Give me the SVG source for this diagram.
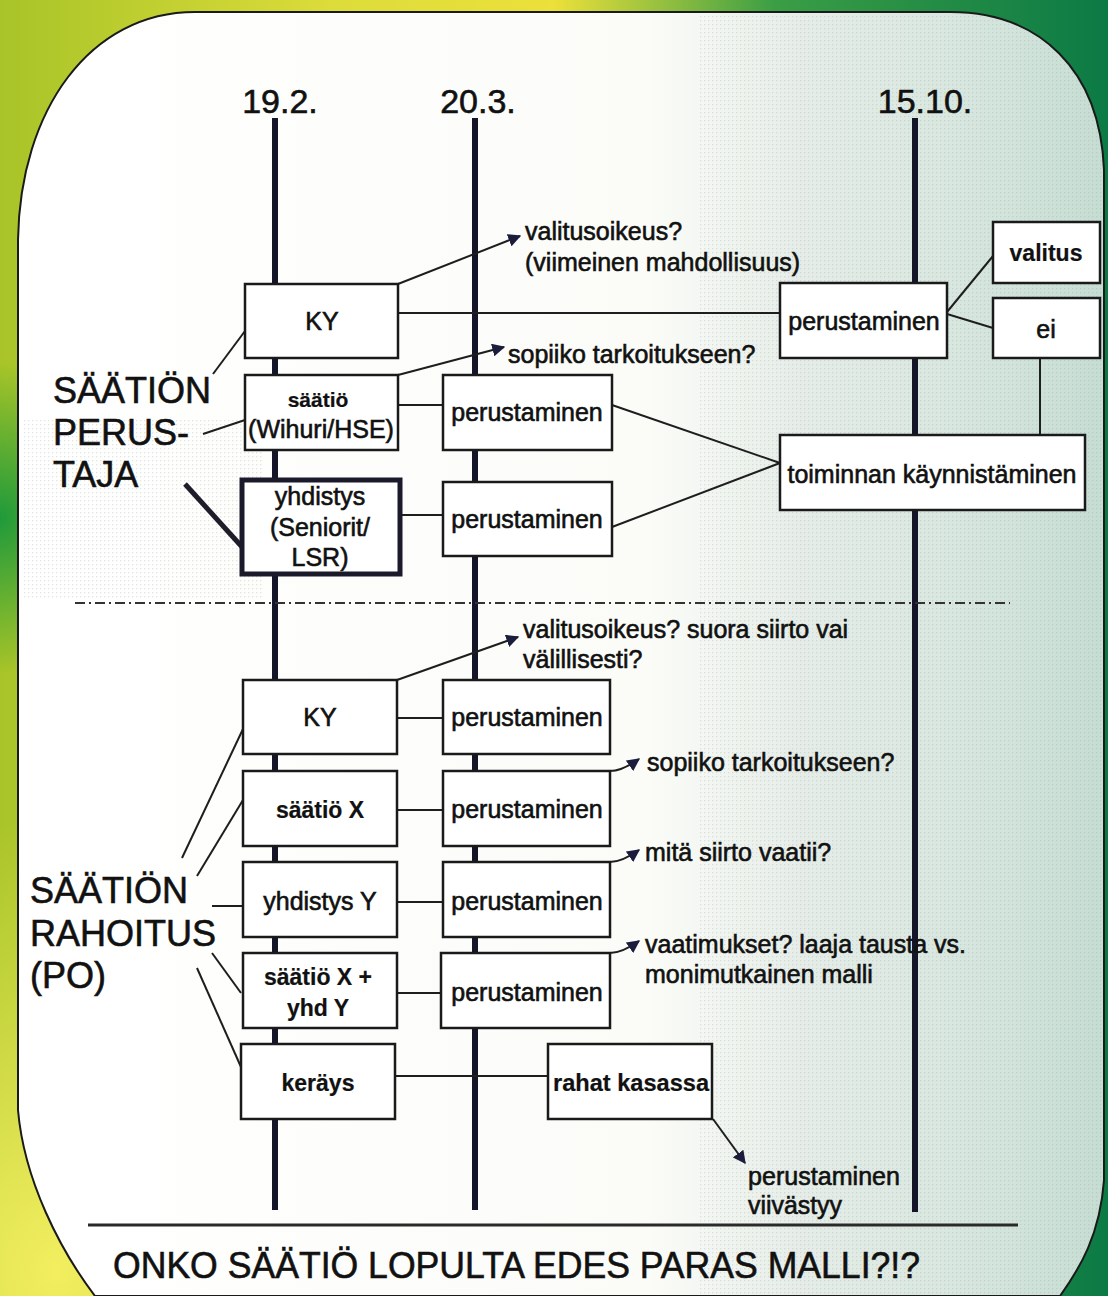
<svg xmlns="http://www.w3.org/2000/svg" width="1108" height="1296" viewBox="0 0 1108 1296">
<defs>
<linearGradient id="bgH" x1="0" y1="0" x2="1" y2="0">
<stop offset="0" stop-color="#a8c428"/>
<stop offset="0.3" stop-color="#dcdc3a"/>
<stop offset="0.5" stop-color="#ece03a"/>
<stop offset="0.7" stop-color="#3a9e45"/>
<stop offset="1" stop-color="#0c7a45"/>
</linearGradient>
<radialGradient id="bgY" cx="0.05" cy="0.98" r="0.35">
<stop offset="0" stop-color="#f2ee60"/>
<stop offset="1" stop-color="#f2ee60" stop-opacity="0"/>
</radialGradient>
<radialGradient id="bgG" cx="0" cy="0.4" r="0.12">
<stop offset="0" stop-color="#1f9a3a"/>
<stop offset="1" stop-color="#1f9a3a" stop-opacity="0"/>
</radialGradient>
<linearGradient id="inner" x1="0" y1="0" x2="1" y2="0">
<stop offset="0" stop-color="#ffffff"/>
<stop offset="0.58" stop-color="#fbfcf8"/>
<stop offset="0.72" stop-color="#e6ede8"/>
<stop offset="0.88" stop-color="#d6e6de"/>
<stop offset="1" stop-color="#c6ddd3"/>
</linearGradient>
<pattern id="dots" width="4" height="4" patternUnits="userSpaceOnUse">
<rect x="0" y="0" width="1.3" height="1.3" fill="#8a9a90" fill-opacity="0.25"/>
</pattern>
<marker id="ahs" viewBox="0 0 10 10" refX="9" refY="5" markerWidth="13" markerHeight="13" orient="auto" markerUnits="userSpaceOnUse">
<path d="M0,0 L10,5 L0,10 Z" fill="#1c1c3c"/>
</marker>
</defs>
<style>
text{font-family:"Liberation Sans",Arial,Helvetica,sans-serif;fill:#111;stroke:#111;stroke-width:0.6}
.t{font-size:25px}
.b{font-weight:bold;stroke-width:0.2}
.c{text-anchor:middle}
.big{font-size:36px;stroke-width:0.6}
.date{font-size:34px;text-anchor:middle}
.box{fill:#fff;stroke:#1a1a1a;stroke-width:2.5}
.thick{fill:#fff;stroke:#1a1a2a;stroke-width:5}
.tl{stroke:#15152a;stroke-width:6;fill:none}
.ln{stroke:#1e1e1e;stroke-width:2;fill:none}
.ln3{stroke:#1e1e2a;stroke-width:5;fill:none}
</style>

<g id="background">
<rect x="0" y="0" width="1108" height="1296" fill="url(#bgH)"/>
<rect x="0" y="0" width="1108" height="1296" fill="url(#bgY)"/>
<rect x="0" y="0" width="1108" height="1296" fill="url(#bgG)"/>
<path d="M195,12 L950,12 C1040,12 1100,70 1104,170 L1104,1180 C1100,1235 1080,1268 1060,1296 L95,1296 C60,1250 24,1180 18,1110 L18,240 C20,110 90,12 195,12 Z" fill="url(#inner)" stroke="#1a1a1a" stroke-width="2"/>
<path d="M700,14 L950,14 C1040,14 1100,70 1102,170 L1102,1180 C1098,1235 1078,1268 1058,1294 L700,1294 Z" fill="url(#dots)"/>
<rect x="22" y="420" width="240" height="180" fill="url(#dots)"/>
</g>

<g id="dates">
<text class="date" x="280" y="113">19.2.</text>
<text class="date" x="478" y="113">20.3.</text>
<text class="date" x="925" y="113">15.10.</text>
</g>

<g id="timelines">
<line class="tl" x1="275" y1="118" x2="275" y2="1210"/>
<line class="tl" x1="475" y1="118" x2="475" y2="1210"/>
<line class="tl" x1="915" y1="118" x2="915" y2="1212"/>
</g>

<g id="connectors">
<line class="ln" x1="398" y1="313" x2="780" y2="313" stroke="#2c2c18"/>
<line class="ln" x1="398" y1="284" x2="520" y2="236" marker-end="url(#ahs)"/>
<line class="ln" x1="398" y1="375" x2="504" y2="347" marker-end="url(#ahs)"/>
<line class="ln" x1="947" y1="312" x2="993" y2="256"/>
<line class="ln" x1="947" y1="314" x2="993" y2="328"/>
<line class="ln" x1="1040" y1="358" x2="1040" y2="435"/>
<line class="ln" x1="398" y1="405" x2="443" y2="405"/>
<line class="ln" x1="400" y1="515" x2="443" y2="515"/>
<line class="ln" x1="612" y1="405" x2="780" y2="463"/>
<line class="ln" x1="612" y1="527" x2="780" y2="463"/>
<line class="ln" x1="213" y1="374" x2="245" y2="331"/>
<line class="ln" x1="203" y1="434" x2="245" y2="420"/>
<line class="ln3" x1="185" y1="484" x2="243" y2="548"/>
<line x1="75" y1="603" x2="1010" y2="603" stroke="#333" stroke-width="2" stroke-dasharray="10 4 2 4"/>
<line class="ln" x1="397" y1="680" x2="518" y2="637" marker-end="url(#ahs)"/>
<line class="ln" x1="397" y1="718" x2="443" y2="718"/>
<line class="ln" x1="397" y1="810" x2="443" y2="810"/>
<line class="ln" x1="397" y1="902" x2="443" y2="902"/>
<line class="ln" x1="397" y1="993" x2="441" y2="993"/>
<line class="ln" x1="395" y1="1076" x2="548" y2="1076"/>
<path class="ln" d="M610,771 Q622,771 639,759" marker-end="url(#ahs)"/>
<path class="ln" d="M610,862 Q622,862 639,850" marker-end="url(#ahs)"/>
<path class="ln" d="M610,953 Q622,953 639,941" marker-end="url(#ahs)"/>
<line class="ln" x1="713" y1="1119" x2="745" y2="1163" marker-end="url(#ahs)"/>
<line class="ln" x1="182" y1="858" x2="243" y2="729"/>
<line class="ln" x1="197" y1="876" x2="243" y2="800"/>
<line class="ln" x1="212" y1="906" x2="243" y2="906"/>
<line class="ln" x1="212" y1="953" x2="241" y2="993"/>
<line class="ln" x1="197" y1="968" x2="241" y2="1067"/>
<line x1="88" y1="1225" x2="1018" y2="1225" stroke="#2a2a2a" stroke-width="3"/>
</g>

<g id="node-ky1"><rect class="box" x="245" y="284" width="153" height="74"/><text class="t c" x="322" y="330">KY</text></g>
<g id="node-perustaminen-top"><rect class="box" x="780" y="283" width="167" height="75"/><text class="t c" x="864" y="330">perustaminen</text></g>
<g id="node-valitus"><rect class="box" x="993" y="222" width="107" height="61"/><text class="t c b" x="1046" y="261" style="font-size:23px">valitus</text></g>
<g id="node-ei"><rect class="box" x="993" y="298" width="107" height="60"/><text class="t c" x="1046" y="338">ei</text></g>
<g id="node-saatio1"><rect class="box" x="245" y="375" width="153" height="75"/><text class="t c b" x="318" y="407" style="font-size:21px">säätiö</text><text class="t c" x="321" y="438">(Wihuri/HSE)</text></g>
<g id="node-perustaminen1"><rect class="box" x="443" y="375" width="169" height="75"/><text class="t c" x="527" y="421">perustaminen</text></g>
<g id="node-yhdistys"><rect class="thick" x="242" y="480" width="158" height="94"/><text class="t c" x="320" y="505">yhdistys</text><text class="t c" x="320" y="536">(Seniorit/</text><text class="t c" x="320" y="566">LSR)</text></g>
<g id="node-perustaminen2"><rect class="box" x="443" y="482" width="169" height="74"/><text class="t c" x="527" y="528">perustaminen</text></g>
<g id="node-toiminnan"><rect class="box" x="780" y="435" width="305" height="75"/><text class="t c" x="932" y="483">toiminnan käynnistäminen</text></g>

<g id="node-ky2"><rect class="box" x="243" y="680" width="154" height="74"/><text class="t c" x="320" y="726">KY</text></g>
<g id="node-perustaminen3"><rect class="box" x="443" y="680" width="167" height="74"/><text class="t c" x="527" y="726">perustaminen</text></g>
<g id="node-saatiox"><rect class="box" x="243" y="771" width="154" height="75"/><text class="t c b" x="320" y="818" style="font-size:23px">säätiö X</text></g>
<g id="node-perustaminen4"><rect class="box" x="443" y="771" width="167" height="75"/><text class="t c" x="527" y="818">perustaminen</text></g>
<g id="node-yhdistysy"><rect class="box" x="243" y="862" width="154" height="75"/><text class="t c" x="320" y="910">yhdistys Y</text></g>
<g id="node-perustaminen5"><rect class="box" x="443" y="862" width="167" height="75"/><text class="t c" x="527" y="910">perustaminen</text></g>
<g id="node-saatioxy"><rect class="box" x="243" y="953" width="154" height="75"/><text class="t c b" x="318" y="985" style="font-size:23px">säätiö X +</text><text class="t c b" x="318" y="1016" style="font-size:23px">yhd Y</text></g>
<g id="node-perustaminen6"><rect class="box" x="441" y="953" width="169" height="75"/><text class="t c" x="527" y="1001">perustaminen</text></g>
<g id="node-kerays"><rect class="box" x="241" y="1044" width="154" height="75"/><text class="t c b" x="318" y="1091" style="font-size:23px">keräys</text></g>
<g id="node-rahat"><rect class="box" x="548" y="1044" width="164" height="75"/><text class="t c b" x="631" y="1091" style="font-size:24px" textLength="156" lengthAdjust="spacingAndGlyphs">rahat kasassa</text></g>

<g id="labels">
<text class="t" x="525" y="240">valitusoikeus?</text>
<text class="t" x="525" y="271">(viimeinen mahdollisuus)</text>
<text class="t" x="508" y="363">sopiiko tarkoitukseen?</text>
<text class="big" x="53" y="403">SÄÄTIÖN</text>
<text class="big" x="53" y="445">PERUS-</text>
<text class="big" x="53" y="487">TAJA</text>
<text class="t" x="523" y="638">valitusoikeus? suora siirto vai</text>
<text class="t" x="523" y="668">välillisesti?</text>
<text class="t" x="647" y="771">sopiiko tarkoitukseen?</text>
<text class="t" x="645" y="861">mitä siirto vaatii?</text>
<text class="t" x="645" y="953">vaatimukset? laaja tausta vs.</text>
<text class="t" x="645" y="983">monimutkainen malli</text>
<text class="t" x="748" y="1185" textLength="152" lengthAdjust="spacingAndGlyphs">perustaminen</text>
<text class="t" x="748" y="1214" textLength="94" lengthAdjust="spacingAndGlyphs">viivästyy</text>
<text class="big" x="30" y="903">SÄÄTIÖN</text>
<text class="big" x="30" y="946">RAHOITUS</text>
<text class="big" x="30" y="988">(PO)</text>
<text class="big" x="113" y="1278" style="font-size:37px" textLength="807" lengthAdjust="spacingAndGlyphs">ONKO SÄÄTIÖ LOPULTA EDES PARAS MALLI?!?</text>
</g>
</svg>
